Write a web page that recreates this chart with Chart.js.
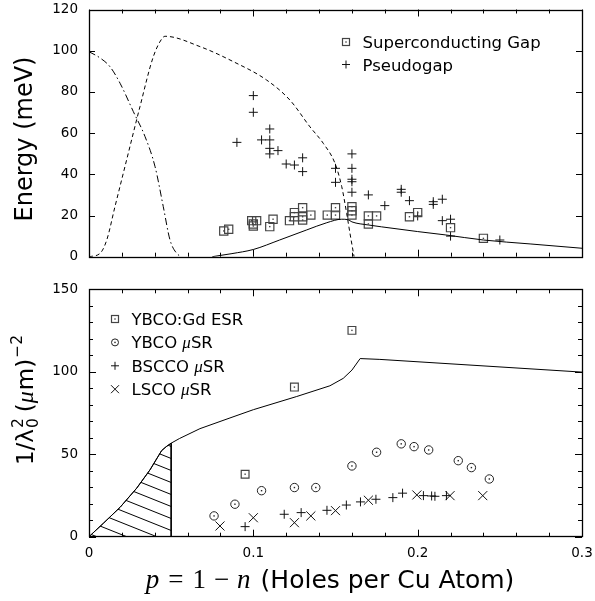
<!DOCTYPE html>
<html>
<head>
<meta charset="utf-8">
<script src="https://cdn.jsdelivr.net/npm/chart.js@4/dist/chart.umd.min.js"></script>
<style>
  html, body { margin: 0; padding: 0; background: #fff; }
  #wrap { position: relative; width: 595px; height: 601px; overflow: hidden; }
  canvas { position: absolute; left: 0; }
  #energyCanvas { top: 0; }
  #lambdaCanvas { top: 270px; }
</style>
</head>
<body>
<div id="wrap">
  <canvas id="energyCanvas" width="595" height="270"></canvas>
  <canvas id="lambdaCanvas" width="595" height="331"></canvas>
</div>
<script>
// ---------------- Upper panel: energy scales vs hole doping ----------------
const gapP = [0.082, 0.085, 0.099, 0.102, 0.100, 0.100, 0.112, 0.110, 0.122, 0.125, 0.125,
              0.130, 0.130, 0.130, 0.135, 0.145, 0.150, 0.150, 0.160, 0.160, 0.160, 0.170,
              0.175, 0.170, 0.195, 0.200, 0.220, 0.240];
const gapE = [12.5, 13.3, 17.5, 17.5, 15.9, 14.9, 18.2, 14.6, 17.5, 21.4, 19.4,
              23.8, 19.4, 17.8, 20.2, 20.2, 20.2, 23.8, 24.3, 22.3, 20.2, 19.8,
              19.8, 15.9, 19.4, 21.4, 14.1, 8.9];

const pseudoP = [0.100, 0.100, 0.090, 0.110, 0.105, 0.110, 0.110, 0.115, 0.110, 0.120, 0.125,
                 0.130, 0.130, 0.160, 0.150, 0.160, 0.160, 0.160, 0.150, 0.160, 0.170, 0.180,
                 0.190, 0.190, 0.195, 0.2095, 0.2095, 0.215, 0.215, 0.220, 0.220, 0.200, 0.250];
const pseudoE = [78.2, 70.1, 55.5, 62.0, 56.7, 56.7, 52.6, 51.5, 49.9, 45.0, 44.5,
                 48.0, 41.3, 49.9, 42.9, 42.9, 37.6, 36.4, 36.1, 31.3, 30.0, 24.8,
                 32.7, 31.3, 27.2, 26.7, 25.4, 27.9, 17.5, 18.2, 10.0, 19.8, 8.1];

// falling dash-dot curve starting at 100 meV
const dashDotP = [0, 0.0067, 0.0128, 0.0189, 0.027, 0.0341, 0.0402, 0.0452, 0.0493, 0.0534, 0.0564];
const dashDotE = [99.5, 96.5, 92.2, 84.2, 70.4, 58.3, 43.7, 24.3, 8.1, 1.6, 0];

// dashed dome
const dashP = [0, 0.0067, 0.0108, 0.0158, 0.0229, 0.031, 0.0391, 0.0445, 0.0463, 0.0675,
               0.0878, 0.108, 0.1223, 0.1345, 0.1426, 0.1497, 0.1538, 0.1568, 0.1588, 0.1613];
const dashE = [0, 1.6, 8.1, 24.3, 47.0, 72.8, 97.0, 106.0, 107.0, 102.0,
               94.7, 85.8, 76.0, 63.0, 55.0, 45.3, 34.0, 21.0, 11.4, 0];

// solid curve
const solidP = [0.075, 0.087, 0.100, 0.116, 0.1325, 0.1447, 0.1538, 0.1575, 0.160, 0.170,
                0.178, 0.200, 0.2167, 0.240, 0.2684, 0.300];
const solidE = [0, 1.5, 3.5, 8.1, 13.0, 16.5, 18.2, 18.0, 16.9, 15.4,
                14.5, 12.2, 10.6, 8.1, 6.2, 4.1];

const energyTicks = [0, 20, 40, 60, 80, 100, 120];

// ---------------- Lower panel: superfluid density ----------------
const esrP = [0.095, 0.125, 0.160];
const esrV = [37.9, 90.7, 125.1];

const ybcoP = [0.0761, 0.0888, 0.105, 0.125, 0.138, 0.160, 0.175, 0.190, 0.1978, 0.2067, 0.2247, 0.2327, 0.2436];
const ybcoV = [12.6, 19.7, 27.9, 29.8, 29.8, 42.9, 51.2, 56.3, 54.6, 52.6, 46.1, 41.9, 35.0];

const bsccoP = [0.095, 0.1188, 0.1291, 0.1448, 0.1566, 0.1652, 0.1746, 0.1849, 0.1908, 0.2035, 0.2085, 0.2105, 0.2175];
const bsccoV = [6.1, 13.6, 14.6, 16.0, 19.2, 21.1, 22.7, 23.7, 26.4, 24.9, 24.7, 24.5, 24.9];

const lscoP = [0.0797, 0.100, 0.125, 0.135, 0.150, 0.170, 0.1995, 0.2197, 0.2396];
const lscoV = [6.5, 11.5, 8.5, 12.6, 15.8, 22.1, 25.3, 24.9, 24.9];

const lambdaP = [0, 0.0087, 0.0189, 0.029, 0.0371, 0.0442, 0.047, 0.050, 0.055, 0.0675,
                 0.0858, 0.100, 0.1264, 0.1466, 0.1547, 0.160, 0.165, 0.177, 0.300];
const lambdaV = [0, 8.1, 17.8, 29.4, 40.5, 52.2, 54.6, 56.7, 59.5, 65.5,
                 72.0, 77.0, 85.0, 91.5, 96.0, 101.0, 108.0, 107.5, 99.8];

// hatched region under the curve for p < 0.05
const hatchP = [0, 0.0087, 0.0189, 0.029, 0.0371, 0.0442, 0.047, 0.050, 0.050];
const hatchV = [0, 8.1, 17.8, 29.4, 40.5, 52.2, 54.6, 56.7, 0];

const lambdaTicks = [0, 50, 100, 150];
const pTicks = [0, 0.1, 0.2, 0.3];
const pTickLabels = ['0', '0.1', '0.2', '0.3'];

// ---------------- helpers ----------------
const zip = (xs, ys) => xs.map((x, i) => ({ x, y: ys[i] }));
const SANS = "'DejaVu Sans', sans-serif";
const SERIF = "'Liberation Serif', 'DejaVu Serif', serif";

function tickList(min, max, step, majorEvery) {
  const out = [];
  const n = Math.round((max - min) / step);
  for (let i = 0; i <= n; i++) out.push({ v: min + i * step, major: i % majorEvery === 0 });
  return out;
}

// nudge layout padding until the plot area sits on the wanted pixel box
function fitArea(chart, target) {
  for (let k = 0; k < 4; k++) {
    const a = chart.chartArea;
    const old = chart.config.options.layout.padding;
    chart.config.options.layout.padding = {
      left: Math.max(0, old.left + (target.left - a.left)),
      top: Math.max(0, old.top + (target.top - a.top)),
      right: Math.max(0, old.right + (a.right - target.right)),
      bottom: Math.max(0, old.bottom + (a.bottom - target.bottom))
    };
    chart.update();
  }
}

// inward tick marks on all four sides plus the frame
const frameTicks = {
  id: 'frameTicks',
  afterDatasetsDraw(chart, args, opts) {
    const { ctx, chartArea: a } = chart;
    const x = chart.scales.x, y = chart.scales.y;
    ctx.save();
    ctx.strokeStyle = '#000';
    ctx.lineWidth = 1;
    ctx.beginPath();
    for (const t of opts.xTicks) {
      const px = Math.round(x.getPixelForValue(t.v)) + 0.5;
      const L = t.major ? opts.xMajor : opts.xMinor;
      ctx.moveTo(px, a.bottom); ctx.lineTo(px, a.bottom - L);
      ctx.moveTo(px, a.top); ctx.lineTo(px, a.top + L);
    }
    for (const t of opts.yTicks) {
      const py = Math.round(y.getPixelForValue(t.v)) + 0.5;
      const L = t.major ? opts.yMajor : opts.yMinor;
      ctx.moveTo(a.left, py); ctx.lineTo(a.left + L, py);
      ctx.moveTo(a.right, py); ctx.lineTo(a.right - L, py);
    }
    ctx.stroke();
    ctx.lineWidth = 1.3;
    ctx.strokeRect(Math.round(a.left) + 0.5, Math.round(a.top) + 0.5,
                   Math.round(a.right - a.left), Math.round(a.bottom - a.top));
    ctx.restore();
  }
};

// small dot inside open squares and circles
const centerDots = {
  id: 'centerDots',
  afterDatasetsDraw(chart) {
    const ctx = chart.ctx;
    ctx.save();
    chart.data.datasets.forEach((ds, i) => {
      if (!ds.centerDot) return;
      ctx.fillStyle = ds.borderColor;
      for (const el of chart.getDatasetMeta(i).data) {
        ctx.fillRect(el.x - 0.7, el.y - 0.7, 1.4, 1.4);
      }
    });
    ctx.restore();
  }
};

function drawMarker(ctx, style, x, y) {
  ctx.save();
  ctx.strokeStyle = style.color;
  ctx.lineWidth = style.width;
  if (style.kind === 'square') {
    const h = style.size / 2;
    ctx.strokeRect(x - h, y - h, style.size, style.size);
    ctx.fillStyle = style.color;
    ctx.fillRect(x - 0.7, y - 0.7, 1.4, 1.4);
  } else if (style.kind === 'circle') {
    ctx.beginPath(); ctx.arc(x, y, style.size / 2, 0, Math.PI * 2); ctx.stroke();
    ctx.fillStyle = style.color;
    ctx.fillRect(x - 0.7, y - 0.7, 1.4, 1.4);
  } else if (style.kind === 'plus') {
    const h = style.size / 2;
    ctx.beginPath();
    ctx.moveTo(x - h, y); ctx.lineTo(x + h, y);
    ctx.moveTo(x, y - h); ctx.lineTo(x, y + h);
    ctx.stroke();
  } else if (style.kind === 'cross') {
    const h = style.size / 2;
    ctx.beginPath();
    ctx.moveTo(x - h, y - h); ctx.lineTo(x + h, y + h);
    ctx.moveTo(x - h, y + h); ctx.lineTo(x + h, y - h);
    ctx.stroke();
  }
  ctx.restore();
}

// draws a run of text pieces; each piece may shift its baseline and may not advance
function drawRuns(ctx, runs, x, y) {
  let cx = x;
  for (const r of runs) {
    ctx.font = r.font;
    ctx.fillText(r.text, cx, y + (r.dy || 0));
    const w = ctx.measureText(r.text).width;
    if (r.advance !== false) cx += w + (r.gap || 0);
  }
  return cx - x;
}
function measureRuns(ctx, runs) {
  let w = 0;
  for (const r of runs) {
    ctx.font = r.font;
    if (r.advance !== false) w += ctx.measureText(r.text).width + (r.gap || 0);
  }
  return w;
}

const markGap = { kind: 'square', size: 8, color: '#444', width: 1.2 };
const markPlus = { kind: 'plus', size: 9, color: '#111', width: 1 };
const markCircle = { kind: 'circle', size: 8.5, color: '#222', width: 1 };
const markCross = { kind: 'cross', size: 9, color: '#111', width: 1 };

// tick labels are pushed off the axis by an invisible tick length, so the
// label padding does not inflate the plot-area margins
const hiddenGrid = (len) => ({ display: false, drawTicks: true, tickLength: len });

// ---------------- upper chart ----------------
const energyDecor = {
  id: 'energyDecor',
  afterDraw(chart) {
    const ctx = chart.ctx;
    ctx.save();
    ctx.fillStyle = '#000';
    ctx.textBaseline = 'alphabetic';
    // axis title
    ctx.save();
    ctx.translate(32, 139);
    ctx.rotate(-Math.PI / 2);
    ctx.font = '24px ' + SANS;
    ctx.textAlign = 'center';
    ctx.fillText('Energy (meV)', 0, 0);
    ctx.restore();
    // key
    ctx.font = '16.5px ' + SANS;
    ctx.textAlign = 'left';
    drawMarker(ctx, { ...markGap, size: 7 }, 346, 42);
    ctx.fillText('Superconducting Gap', 362.5, 48.3);
    drawMarker(ctx, { ...markPlus, size: 8 }, 346, 64.5);
    ctx.fillText('Pseudogap', 362.5, 70.5);
    ctx.restore();
  }
};

const energyChart = new Chart(document.getElementById('energyCanvas'), {
  type: 'line',
  data: {
    datasets: [
      { label: 'dash-dot', data: zip(dashDotP, dashDotE), borderColor: '#000', borderWidth: 1,
        borderDash: [7, 3, 1.5, 3], pointRadius: 0, cubicInterpolationMode: 'monotone', fill: false },
      { label: 'dashed', data: zip(dashP, dashE), borderColor: '#000', borderWidth: 1,
        borderDash: [4, 3], pointRadius: 0, cubicInterpolationMode: 'monotone', fill: false },
      { label: 'solid', data: zip(solidP, solidE), borderColor: '#000', borderWidth: 1,
        pointRadius: 0, cubicInterpolationMode: 'monotone', fill: false },
      { label: 'Superconducting Gap', data: zip(gapP, gapE), showLine: false,
        pointStyle: 'rect', pointRadius: 5.8, borderColor: '#444', backgroundColor: 'rgba(0,0,0,0)',
        pointBorderWidth: 1.2, centerDot: true },
      { label: 'Pseudogap', data: zip(pseudoP, pseudoE), showLine: false,
        pointStyle: 'cross', pointRadius: 4.5, borderColor: '#111', backgroundColor: 'rgba(0,0,0,0)',
        pointBorderWidth: 1 }
    ]
  },
  options: {
    responsive: false,
    devicePixelRatio: 1,
    animation: false,
    events: [],
    layout: { padding: { left: 0, right: 13, top: 9.5, bottom: 12 } },
    plugins: {
      legend: { display: false },
      tooltip: { enabled: false },
      frameTicks: {
        xTicks: tickList(0, 0.3, 0.02, 5), xMajor: 7, xMinor: 4,
        yTicks: energyTicks.map(v => ({ v, major: true })), yMajor: 6, yMinor: 6
      }
    },
    scales: {
      x: {
        type: 'linear', min: 0, max: 0.3,
        grid: { display: false, drawTicks: false },
        border: { display: false },
        ticks: { display: false, padding: 0 },
        afterFit(s) { s.height = 1; }
      },
      y: {
        type: 'linear', min: 0, max: 120,
        grid: hiddenGrid(11),
        border: { display: false },
        afterBuildTicks(s) { s.ticks = energyTicks.map(v => ({ value: v })); },
        ticks: { color: '#000', padding: 0, font: { family: SANS, size: 13.5 } },
        afterFit(s) { s.width = 89; }
      }
    }
  },
  plugins: [frameTicks, centerDots, energyDecor]
});
fitArea(energyChart, { left: 89, right: 582, top: 9.5, bottom: 256.7 });

// ---------------- lower chart ----------------
const lambdaCtx = document.getElementById('lambdaCanvas').getContext('2d');
function makeHatch() {
  const w = 30, h = 12;
  const c = document.createElement('canvas');
  c.width = w; c.height = h;
  const g = c.getContext('2d');
  g.strokeStyle = '#000';
  g.lineWidth = 1;
  for (const k of [-1, 0, 1]) {
    g.beginPath(); g.moveTo(0, k * h); g.lineTo(w, k * h + h); g.stroke();
  }
  return lambdaCtx.createPattern(c, 'repeat');
}

const lambdaDecor = {
  id: 'lambdaDecor',
  afterDraw(chart) {
    const ctx = chart.ctx;
    ctx.save();
    ctx.fillStyle = '#000';
    ctx.textBaseline = 'alphabetic';
    ctx.textAlign = 'left';

    // vertical axis title: 1/λ₀² (μm)⁻²
    const big = '23px ' + SANS, small = '15.5px ' + SANS;
    const yRuns = [
      { text: '1/λ', font: big, gap: 1 },
      { text: '2', font: small, dy: -10, advance: false },
      { text: '0', font: small, dy: 5, gap: 6 },
      { text: '(', font: big, gap: 0 },
      { text: 'μ', font: 'italic 24px ' + SERIF, gap: 1 },
      { text: 'm)', font: big, gap: 1 },
      { text: '−2', font: small, dy: -11 }
    ];
    ctx.save();
    ctx.translate(33, 130);
    ctx.rotate(-Math.PI / 2);
    const wy = measureRuns(ctx, yRuns);
    drawRuns(ctx, yRuns, -wy / 2, 0);
    ctx.restore();

    // horizontal axis title: p = 1 − n (Holes per Cu Atom)
    const mi = 'italic 27px ' + SERIF, mr = '27px ' + SERIF, sx = '25px ' + SANS;
    const xRuns = [
      { text: 'p', font: mi, gap: 9 },
      { text: '=', font: mr, gap: 9 },
      { text: '1', font: mr, gap: 8 },
      { text: '−', font: mr, gap: 8 },
      { text: 'n', font: mi, gap: 10 },
      { text: '(Holes per Cu Atom)', font: sx }
    ];
    const wx = measureRuns(ctx, xRuns);
    drawRuns(ctx, xRuns, 330 - wx / 2, 318);

    // key
    const kf = '16.5px ' + SANS, kmu = 'italic 17px ' + SERIF;
    const rows = [
      { m: { ...markGap, size: 7 }, runs: [{ text: 'YBCO:Gd ESR', font: kf }] },
      { m: { ...markCircle, size: 7 }, runs: [{ text: 'YBCO ', font: kf }, { text: 'μ', font: kmu }, { text: 'SR', font: kf }] },
      { m: { ...markPlus, size: 8 }, runs: [{ text: 'BSCCO ', font: kf }, { text: 'μ', font: kmu }, { text: 'SR', font: kf }] },
      { m: { ...markCross, size: 8 }, runs: [{ text: 'LSCO ', font: kf }, { text: 'μ', font: kmu }, { text: 'SR', font: kf }] }
    ];
    rows.forEach((r, i) => {
      const base = 55 + i * 23.4;
      drawMarker(ctx, r.m, 115, base - 6);
      drawRuns(ctx, r.runs, 131.5, base);
    });
    ctx.restore();
  }
};

const lambdaChart = new Chart(lambdaCtx, {
  type: 'line',
  data: {
    datasets: [
      { label: 'hatch', data: zip(hatchP, hatchV), borderColor: '#000', borderWidth: 1,
        pointRadius: 0, tension: 0, fill: 'origin', backgroundColor: makeHatch() },
      { label: 'curve', data: zip(lambdaP, lambdaV), borderColor: '#000', borderWidth: 1,
        pointRadius: 0, tension: 0, fill: false },
      { label: 'YBCO:Gd ESR', data: zip(esrP, esrV), showLine: false,
        pointStyle: 'rect', pointRadius: 5.5, borderColor: '#444', backgroundColor: 'rgba(0,0,0,0)',
        pointBorderWidth: 1.2, centerDot: true },
      { label: 'YBCO μSR', data: zip(ybcoP, ybcoV), showLine: false,
        pointStyle: 'circle', pointRadius: 4.2, borderColor: '#222', backgroundColor: 'rgba(0,0,0,0)',
        pointBorderWidth: 1, centerDot: true },
      { label: 'BSCCO μSR', data: zip(bsccoP, bsccoV), showLine: false,
        pointStyle: 'cross', pointRadius: 4.5, borderColor: '#111', backgroundColor: 'rgba(0,0,0,0)',
        pointBorderWidth: 1 },
      { label: 'LSCO μSR', data: zip(lscoP, lscoV), showLine: false,
        pointStyle: 'crossRot', pointRadius: 6.4, borderColor: '#111', backgroundColor: 'rgba(0,0,0,0)',
        pointBorderWidth: 1 }
    ]
  },
  options: {
    responsive: false,
    devicePixelRatio: 1,
    animation: false,
    events: [],
    layout: { padding: { left: 0, right: 13, top: 19.3, bottom: 0 } },
    plugins: {
      legend: { display: false },
      tooltip: { enabled: false },
      frameTicks: {
        xTicks: tickList(0, 0.3, 0.02, 5), xMajor: 7, xMinor: 4,
        yTicks: tickList(0, 150, 10, 5), yMajor: 7, yMinor: 4
      }
    },
    scales: {
      x: {
        type: 'linear', min: 0, max: 0.3,
        grid: hiddenGrid(9),
        border: { display: false },
        afterBuildTicks(s) { s.ticks = pTicks.map(v => ({ value: v })); },
        ticks: {
          color: '#000', padding: 0, maxRotation: 0, autoSkip: false,
          font: { family: SANS, size: 13.5 },
          callback: (v) => { const i = pTicks.findIndex(t => Math.abs(t - v) < 1e-9); return i >= 0 ? pTickLabels[i] : ''; }
        },
        afterFit(s) { s.height = 50; }
      },
      y: {
        type: 'linear', min: 0, max: 150,
        grid: hiddenGrid(11),
        border: { display: false },
        afterBuildTicks(s) { s.ticks = lambdaTicks.map(v => ({ value: v })); },
        ticks: { color: '#000', padding: 0, font: { family: SANS, size: 13.5 } },
        afterFit(s) { s.width = 89; }
      }
    }
  },
  plugins: [frameTicks, centerDots, lambdaDecor]
});
fitArea(lambdaChart, { left: 89, right: 582, top: 19.3, bottom: 266.7 });
</script>
</body>
</html>
